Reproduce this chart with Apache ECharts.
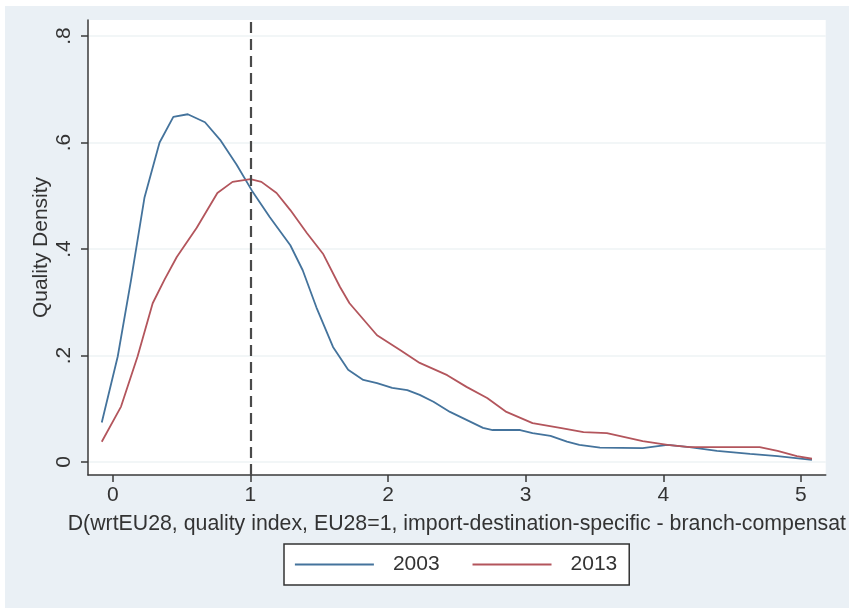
<!DOCTYPE html>
<html>
<head>
<meta charset="utf-8">
<script src="https://cdn.jsdelivr.net/npm/echarts@6/dist/echarts.min.js"></script>
<style>
  html, body { margin: 0; padding: 0; background: #ffffff; }
  #chart { position: absolute; left: 5px; top: 6px; width: 844px; height: 602px; }
</style>
</head>
<body>
<div id="chart"></div>
<script>
// Kernel density of the quality index, 2003 vs 2013
const x2003 = [-0.08, 0.036, 0.133, 0.23, 0.34, 0.44, 0.545, 0.67, 0.78, 0.90, 1.01, 1.14, 1.29, 1.38, 1.48, 1.6, 1.71, 1.82, 1.92, 2.03, 2.14, 2.23, 2.33, 2.45, 2.57, 2.69, 2.76, 2.96, 3.05, 3.18, 3.3, 3.39, 3.54, 3.85, 4.03, 4.19, 4.39, 4.63, 4.83, 5.08];
const d2003 = [0.074, 0.198, 0.342, 0.496, 0.60, 0.648, 0.653, 0.638, 0.605, 0.558, 0.51, 0.46, 0.407, 0.36, 0.29, 0.216, 0.173, 0.154, 0.148, 0.139, 0.135, 0.126, 0.113, 0.094, 0.079, 0.064, 0.06, 0.06, 0.054, 0.049, 0.038, 0.032, 0.027, 0.026, 0.032, 0.028, 0.021, 0.015, 0.011, 0.004];

const x2013 = [-0.08, 0.06, 0.18, 0.29, 0.375, 0.465, 0.61, 0.76, 0.87, 1.0, 1.08, 1.19, 1.29, 1.41, 1.53, 1.65, 1.72, 1.92, 2.09, 2.23, 2.43, 2.57, 2.72, 2.86, 3.05, 3.25, 3.42, 3.59, 3.85, 4.03, 4.19, 4.43, 4.70, 4.83, 4.97, 5.08];
const d2013 = [0.038, 0.104, 0.198, 0.298, 0.342, 0.385, 0.44, 0.505, 0.526, 0.531, 0.526, 0.505, 0.473, 0.43, 0.39, 0.329, 0.298, 0.238, 0.21, 0.186, 0.163, 0.141, 0.12, 0.094, 0.073, 0.064, 0.056, 0.054, 0.039, 0.032, 0.028, 0.028, 0.028, 0.021, 0.011, 0.006];

const xTicks = [0, 1, 2, 3, 4, 5];
const yTicks = [0, 0.2, 0.4, 0.6, 0.8];
const yTickLabels = ['0', '.2', '.4', '.6', '.8'];
const refLine = 1;
const seriesNames = ['2003', '2013'];
const xTitle = 'D(wrtEU28, quality index, EU28=1, import-destination-specific - branch-compensat';
const yTitle = 'Quality Density';

const pairs = (xs, ys) => xs.map((x, i) => [x, ys[i]]);

const FONT = 'Liberation Sans, Arial, sans-serif';
const TEXT = '#333333';
const AXIS = '#3a3a3a';
const BLUE = '#44739c';
const RED = '#b3555c';

const chart = echarts.init(document.getElementById('chart'), null, { renderer: 'canvas' });
chart.setOption({
  backgroundColor: '#eaf0f5',
  animation: false,
  textStyle: { fontFamily: FONT },
  grid: {
    left: 83, top: 14, right: 23, bottom: 133,
    show: true, backgroundColor: '#ffffff', borderWidth: 0
  },
  xAxis: {
    type: 'value',
    min: -0.18, max: 5.18,
    name: xTitle,
    nameLocation: 'middle',
    nameGap: 39,
    nameTextStyle: { fontSize: 21.3, color: TEXT, fontFamily: FONT },
    axisLine: { show: true, onZero: false, lineStyle: { color: AXIS, width: 1.5 } },
    axisTick: { show: true, length: 7, customValues: xTicks, lineStyle: { color: AXIS, width: 1.5 } },
    axisLabel: { customValues: xTicks, fontSize: 21, color: TEXT, margin: 10, fontFamily: FONT },
    splitLine: { show: false }
  },
  yAxis: {
    type: 'value',
    min: -0.0245, max: 0.83,
    name: yTitle,
    nameLocation: 'middle',
    nameGap: 36,
    nameMoveOverlap: false,
    nameTextStyle: { fontSize: 21, color: TEXT, fontFamily: FONT },
    axisLine: { show: true, onZero: false, lineStyle: { color: AXIS, width: 1.5 } },
    axisTick: { show: true, length: 7, customValues: yTicks, lineStyle: { color: AXIS, width: 1.5 } },
    axisLabel: {
      customValues: yTicks,
      rotate: 90, fontSize: 21, color: TEXT, margin: 13, fontFamily: FONT,
      formatter: v => yTickLabels[yTicks.findIndex(t => Math.abs(t - v) < 1e-9)] ?? ''
    },
    splitLine: { show: true, lineStyle: { color: '#eef3f5', width: 1.5 } }
  },
  legend: {
    show: true,
    data: seriesNames,
    left: 279, top: 538,
    orient: 'horizontal',
    backgroundColor: '#ffffff',
    borderColor: '#333333',
    borderWidth: 1.5,
    borderRadius: 0,
    padding: [10, 12, 10, 10],
    itemWidth: 79, itemHeight: 18,
    itemGap: 32,
    itemStyle: { opacity: 0 },
    lineStyle: { width: 1.8 },
    textStyle: { fontSize: 21, color: TEXT, fontFamily: FONT, padding: [0, 0, 0, 14] }
  },
  series: [
    {
      name: seriesNames[0],
      type: 'line',
      data: pairs(x2003, d2003),
      symbol: 'none',
      smooth: false,
      color: BLUE,
      lineStyle: { width: 1.8, color: BLUE },
      markLine: {
        silent: true,
        symbol: 'none',
        label: { show: false },
        lineStyle: { type: [11, 6], color: '#4a4a4a', width: 2.2 },
        data: [{ xAxis: refLine }]
      },
      z: 3
    },
    {
      name: seriesNames[1],
      type: 'line',
      data: pairs(x2013, d2013),
      symbol: 'none',
      smooth: false,
      color: RED,
      lineStyle: { width: 1.8, color: RED },
      z: 3
    }
  ]
});
</script>
</body>
</html>
